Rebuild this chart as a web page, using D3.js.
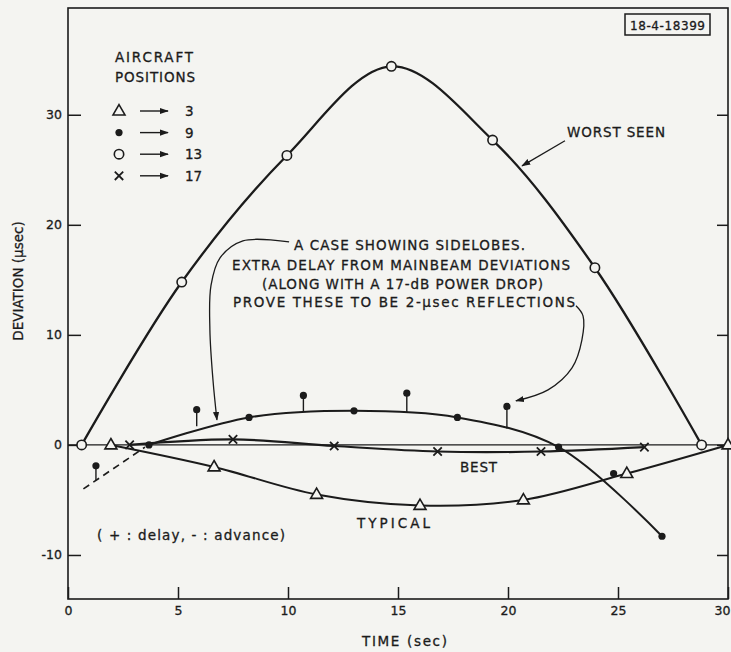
<!DOCTYPE html>
<html>
<head>
<meta charset="utf-8">
<script src="https://cdn.jsdelivr.net/npm/d3@7"></script>
<style>
  html, body { margin: 0; background: #f4f4f1; }
  svg { display: block; font-family: "DejaVu Sans", sans-serif; }
  svg text { stroke: #1b1b1b; stroke-width: 0.3px; }
</style>
</head>
<body>
<svg id="chart" width="731" height="652"></svg>
<script>
// --- data: [time (sec), deviation (usec)] ---
// aircraft position 13, "worst seen" (open circles)
const worstSeen = [[0.62,0],[5.17,14.8],[9.95,26.3],[14.7,34.4],[19.3,27.7],[23.95,16.1],[28.8,0]];
// aircraft position 9 (filled dots), mainbeam curve
const mainbeam9 = [[3.68,0],[8.23,2.5],[13.0,3.1],[17.7,2.5],[22.3,-0.2],[27.0,-8.3]];
const extra9 = [[24.8,-2.6]];
// sidelobe returns: [time, deviation, mainbeam deviation under it]
const sidelobes9 = [[1.27,-1.9,-3.2],[5.85,3.2,1.7],[10.7,4.5,3.0],[15.4,4.7,3.0],[19.95,3.5,1.5]];
const dashed9 = [[0.7,-4.0],[3.5,-0.2]];
// aircraft position 3, "typical" (triangles)
const typical3 = [[1.95,0],[6.64,-2.0],[11.3,-4.5],[16.0,-5.5],[20.7,-5.0],[25.4,-2.6],[30,0]];
// aircraft position 17, "best" (crosses)
const best17 = [[2.8,0],[7.5,0.5],[12.1,-0.1],[16.8,-0.6],[21.5,-0.6],[26.2,-0.2]];

const xTicks = [0,5,10,15,20,25,30];
const yTicks = [-10,0,10,20,30];
const legendSymbols = ["triangle","dot","circle","cross"];
const legendPositions = ["3","9","13","17"];
const noteLines = ["A CASE SHOWING SIDELOBES.","EXTRA DELAY FROM MAINBEAM DEVIATIONS",
                   "(ALONG WITH A 17-dB POWER DROP)","PROVE THESE TO BE 2-\u03bcsec REFLECTIONS"];

// leader lines, in data units
const leaderLeft  = [[10.05,18.45],[7.95,18.55],[6.91,17.0],[6.5,14.5],[6.45,10.45],[6.59,5.9],[6.77,2.27]];
const leaderRight = [[23.09,12.64],[23.41,11.73],[23.36,9.55],[22.91,7.0],[21.82,5.0],[20.36,4.0]];
const leaderWorst = [[22.59,27.64],[20.64,25.36]];

const INK = "#1b1b1b", BG = "#f4f4f1";
const F = {l:68, r:728, t:8, b:599};

const svg = d3.select("#chart");
const x = d3.scaleLinear().domain([0,30]).range([F.l, F.r]);
const y = d3.scaleLinear().domain([-14,39.7]).range([F.b, F.t]);

const defs = svg.append("defs");
defs.append("marker").attr("id","arr").attr("viewBox","0 0 10 10")
  .attr("refX",9).attr("refY",5).attr("markerWidth",9).attr("markerHeight",9)
  .attr("markerUnits","userSpaceOnUse").attr("orient","auto")
  .append("path").attr("d","M0,1.5L10,5L0,8.5z").attr("fill",INK);

// frame
svg.append("rect").attr("x",F.l).attr("y",F.t).attr("width",F.r-F.l).attr("height",F.b-F.t)
  .attr("fill","none").attr("stroke",INK).attr("stroke-width",1.6);

// axes (ticks inward)
function styleAxis(g){
  g.select(".domain").remove();
  g.selectAll("line").attr("stroke",INK).attr("stroke-width",1.5);
  g.selectAll("text").attr("fill",INK).attr("font-size",12.5).attr("font-family","DejaVu Sans, sans-serif");
}
const xAxisG = svg.append("g").attr("transform",`translate(0,${F.b})`)
  .call(d3.axisBottom(x).tickValues(xTicks).tickSize(-12).tickPadding(7).tickFormat(d => String(d)))
  .call(styleAxis);
// last label sits against the page edge
xAxisG.selectAll(".tick text").filter(d => d === 30).attr("dx",-6);
svg.append("g").attr("transform",`translate(${F.l},0)`)
  .call(d3.axisLeft(y).tickValues(yTicks).tickSize(-13).tickPadding(6).tickFormat(d => String(d)))
  .call(styleAxis);
svg.append("g").attr("transform",`translate(${F.r},0)`)
  .call(d3.axisRight(y).tickValues(yTicks).tickSize(-11).tickFormat(""))
  .call(styleAxis);

// zero line
svg.append("line").attr("x1",x(0)).attr("x2",x(30)).attr("y1",y(0)).attr("y2",y(0))
  .attr("stroke",INK).attr("stroke-width",1.2);

const line = d3.line().x(d => x(d[0])).y(d => y(d[1])).curve(d3.curveCatmullRom.alpha(0.5));
const straight = d3.line().x(d => x(d[0])).y(d => y(d[1]));

function curve(data, w){
  svg.append("path").attr("d",line(data)).attr("fill","none")
    .attr("stroke",INK).attr("stroke-width",w).attr("stroke-linejoin","round");
}
curve(best17, 2.2);
curve(typical3, 2.0);
curve(mainbeam9, 2.0);
curve(worstSeen, 2.3);
svg.append("path").attr("d",straight(dashed9)).attr("fill","none")
  .attr("stroke",INK).attr("stroke-width",1.6).attr("stroke-dasharray","7,5");

// sidelobe stems
svg.append("g").selectAll("line").data(sidelobes9).join("line")
  .attr("x1",d => x(d[0])).attr("x2",d => x(d[0]))
  .attr("y1",d => y(d[1])).attr("y2",d => y(d[2]))
  .attr("stroke",INK).attr("stroke-width",1.4);

// markers
function marker(g, type, cx, cy){
  if (type === "circle")
    g.append("circle").attr("cx",cx).attr("cy",cy).attr("r",4.7)
      .attr("fill",BG).attr("stroke",INK).attr("stroke-width",1.6);
  else if (type === "dot")
    g.append("circle").attr("cx",cx).attr("cy",cy).attr("r",3.6).attr("fill",INK);
  else if (type === "triangle")
    g.append("path").attr("transform",`translate(${cx},${cy+0.5})`)
      .attr("d",d3.symbol(d3.symbolTriangle,62)())
      .attr("fill",BG).attr("stroke",INK).attr("stroke-width",1.6).attr("stroke-linejoin","miter");
  else if (type === "cross")
    g.append("path").attr("d",`M${cx-4.2},${cy-4.2}L${cx+4.2},${cy+4.2}M${cx-4.2},${cy+4.2}L${cx+4.2},${cy-4.2}`)
      .attr("stroke",INK).attr("stroke-width",1.8);
}
const mk = svg.append("g");
best17.forEach(d => marker(mk,"cross",x(d[0]),y(d[1])));
typical3.forEach(d => marker(mk,"triangle",x(d[0]),y(d[1])));
mainbeam9.concat(extra9).forEach(d => marker(mk,"dot",x(d[0]),y(d[1])));
sidelobes9.forEach(d => marker(mk,"dot",x(d[0]),y(d[1])));
worstSeen.forEach(d => marker(mk,"circle",x(d[0]),y(d[1])));

// leaders
[leaderLeft, leaderRight].forEach(p => svg.append("path").attr("d",line(p)).attr("fill","none")
  .attr("stroke",INK).attr("stroke-width",1.3).attr("marker-end","url(#arr)"));
svg.append("path").attr("d",straight(leaderWorst)).attr("fill","none")
  .attr("stroke",INK).attr("stroke-width",1.3).attr("marker-end","url(#arr)");

// text helper: x, baseline, width to fit
function label(txt, tx, ty, w, size){
  const t = svg.append("text").attr("x",tx).attr("y",ty).attr("fill",INK)
    .attr("font-size",size || 13.5).text(txt);
  if (w) t.attr("textLength",w).attr("lengthAdjust","spacing");
  return t;
}

// legend
label("AIRCRAFT", 115, 62, 78);
label("POSITIONS", 115, 82, 80);
legendSymbols.forEach((s,i) => {
  const cy = 111 + i*21.6;
  marker(svg, s, 119, cy);
  svg.append("line").attr("x1",140).attr("x2",168).attr("y1",cy).attr("y2",cy)
    .attr("stroke",INK).attr("stroke-width",1.4).attr("marker-end","url(#arr)");
  label(legendPositions[i], 185, cy+5, null, 13.5);
});

// notes
const noteX = [294, 232, 262, 233], noteW = [231, 338, 281, 342], noteY = [250, 270, 289, 307];
noteLines.forEach((s,i) => label(s, noteX[i], noteY[i], noteW[i]));
label("WORST SEEN", 567, 137, 98);
label("BEST", 460, 472, 37);
label("TYPICAL", 357, 528, 73);
label("( + : delay,  - : advance)", 97, 540, 188);

// id box
svg.append("rect").attr("x",625).attr("y",14).attr("width",85).attr("height",21)
  .attr("fill",BG).attr("stroke",INK).attr("stroke-width",1.5);
label("18-4-18399", 630, 30, 75, 12);

// axis titles
label("TIME (sec)", 362, 646, 85);
svg.append("text").attr("transform","translate(23,281) rotate(-90)")
  .attr("text-anchor","middle").attr("fill",INK).attr("font-size",13.5)
  .text("DEVIATION (\u03bcsec)");
</script>
</body>
</html>
